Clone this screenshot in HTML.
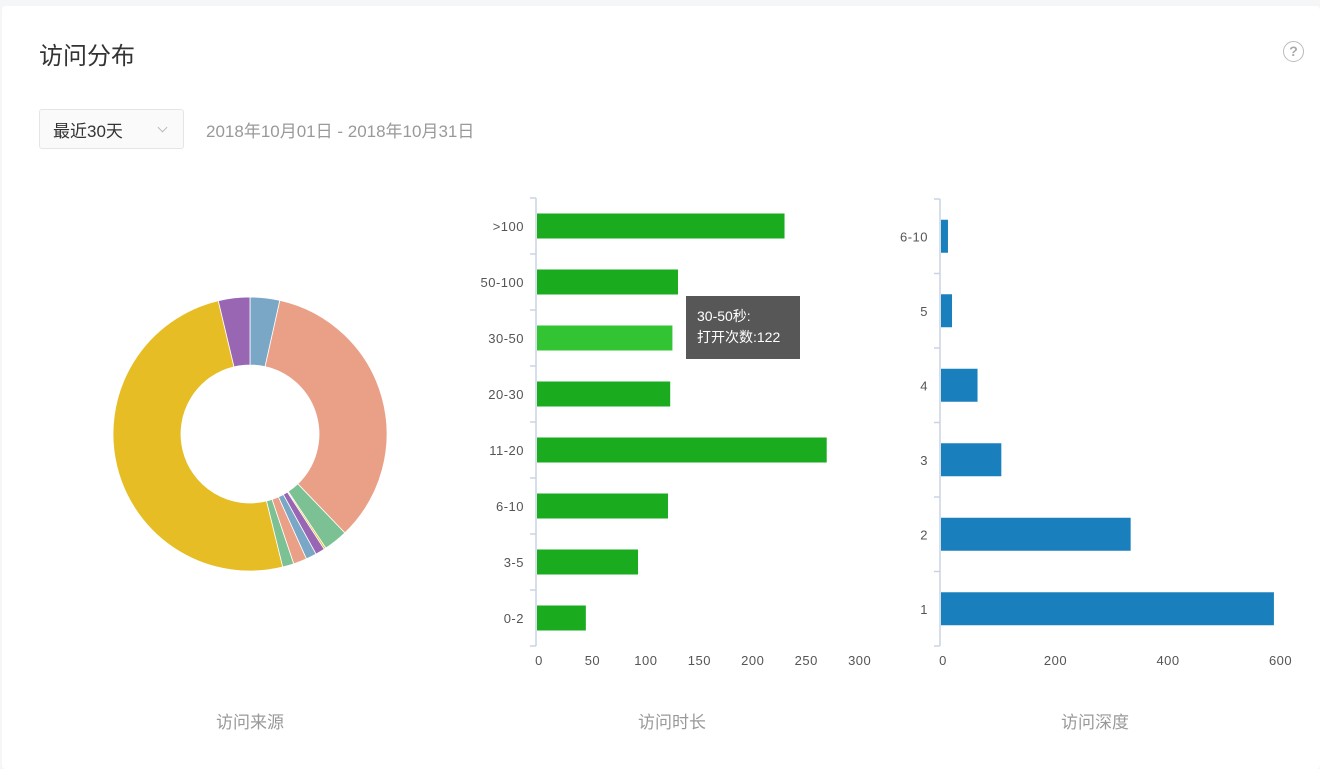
<!DOCTYPE html>
<html><head><meta charset="utf-8">
<style>
body{margin:0;width:1320px;height:769px;background:#f5f6f8;font-family:"Liberation Sans","Noto Sans CJK SC",sans-serif;overflow:hidden;position:relative}
.card{position:absolute;left:2px;top:6px;width:1318px;height:763px;background:#fff;border-radius:4px}
.title{position:absolute;left:39px;top:36px;font-size:24px;color:#333}
.help{position:absolute;left:1283px;top:41px;width:19px;height:19px;border:1.5px solid #bbb;border-radius:50%;color:#aaa;font-size:14px;text-align:center;line-height:19px;font-weight:bold}
.sel{position:absolute;left:39px;top:109px;width:145px;height:40px;border:1px solid #e5e5e5;border-radius:3px;background:#fafafa;font-size:17px;color:#333;box-sizing:border-box;padding:7px 13px}
.sel .arrow{position:absolute;left:119px;top:14px;width:6px;height:6px;border-right:1.5px solid #bbb;border-bottom:1.5px solid #bbb;transform:rotate(45deg)}
.date{position:absolute;left:206px;top:117px;font-size:17px;color:#999}
.cap{position:absolute;top:708px;font-size:17px;color:#999;transform:translateX(-50%)}
svg{position:absolute;left:0;top:0}
.tip{position:absolute;left:686px;top:296px;width:114px;height:63px;background:#575757;color:#fff;font-size:14px;line-height:21px;box-sizing:border-box;padding:10px 11px}
</style></head><body>
<div class="card"></div>
<div class="title">访问分布</div>
<div class="help">?</div>
<div class="sel">最近30天<span class="arrow"></span></div>
<div class="date">2018年10月01日 - 2018年10月31日</div>
<svg id="chart" width="1320" height="769"></svg>
<div class="tip">30-50秒:<br>打开次数:122</div>
<div class="cap" style="left:250px">访问来源</div>
<div class="cap" style="left:672px">访问时长</div>
<div class="cap" style="left:1095px">访问深度</div>
<script>
const pieValues=[12.6,123.6,10.2,0.8,4,4.5,5.7,4.8,180.4,13.4];
const pieColors=['#7ba7c7','#e9a086','#7cc193','#e6bd24','#9966b4','#7ba7c7','#e9a086','#7cc193','#e6bd24','#9966b4'];
const durCats=['>100','50-100','30-50','20-30','11-20','6-10','3-5','0-2'];
const durValues=[223,127,122,120,261,118,91,44];
const durTicks=[0,50,100,150,200,250,300];
const depCats=['6-10','5','4','3','2','1'];
const depValues=[12,19,63,104,327,574];
const depTicks=[0,200,400,600];
const NS='http://www.w3.org/2000/svg';
const svg=document.getElementById('chart');
function mk(t,a,p){const e=document.createElementNS(NS,t);for(const k in a)e.setAttribute(k,a[k]);(p||svg).appendChild(e);return e;}
const cx=250,cy=434,R=137,r=69;
const tot=pieValues.reduce((a,b)=>a+b,0);let acc=0;
pieValues.forEach((v,i)=>{const a0=acc/tot*2*Math.PI;acc+=v;const a1=acc/tot*2*Math.PI;
const p=(a,rr)=>[cx+rr*Math.sin(a),cy-rr*Math.cos(a)];const lg=(a1-a0)>Math.PI?1:0;
const [x0,y0]=p(a0,R),[x1,y1]=p(a1,R),[x2,y2]=p(a1,r),[x3,y3]=p(a0,r);
const e=mk('path',{d:`M${x0},${y0}A${R},${R} 0 ${lg} 1 ${x1},${y1}L${x2},${y2}A${r},${r} 0 ${lg} 0 ${x3},${y3}Z`,fill:pieColors[i],stroke:'#fff','stroke-width':0.8});

});
function hbar(o){
const {ax,top,bot,cats,vals,ticks,scale,color,bh}=o;
const band=(bot-top)/cats.length;
mk('line',{x1:ax,y1:top,x2:ax,y2:bot,stroke:'#c9d4e3','stroke-width':1.5});
for(let i=0;i<=cats.length;i++)mk('line',{x1:ax-6,y1:top+i*band,x2:ax,y2:top+i*band,stroke:'#c9d4e3','stroke-width':1.5});
cats.forEach((c,i)=>{const yc=top+band*(i+0.5);
const t=mk('text',{x:ax-12,y:yc+5,'text-anchor':'end','font-size':13,fill:'#555','letter-spacing':'0.5'});t.textContent=c;


const b=mk('rect',{x:ax+1,y:yc-bh/2,width:vals[i]*scale,height:bh,fill:(o.hi===i?'#33c433':color)});

});
ticks.forEach(tk=>{const t=mk('text',{x:ax+3+tk*scale*(o.tf||1),y:bot+19,'text-anchor':'middle','font-size':13,fill:'#555','letter-spacing':'0.5'});t.textContent=tk;

});
}
hbar({ax:536,top:198,bot:646,cats:durCats,vals:durValues,ticks:durTicks,scale:1.11,color:'#1aab1e',bh:25,hi:2,tf:0.963});
hbar({ax:940,top:199,bot:646,cats:depCats,vals:depValues,ticks:depTicks,scale:0.58,color:'#1a80bd',bh:33,tf:0.97});
</script>
</body></html>
